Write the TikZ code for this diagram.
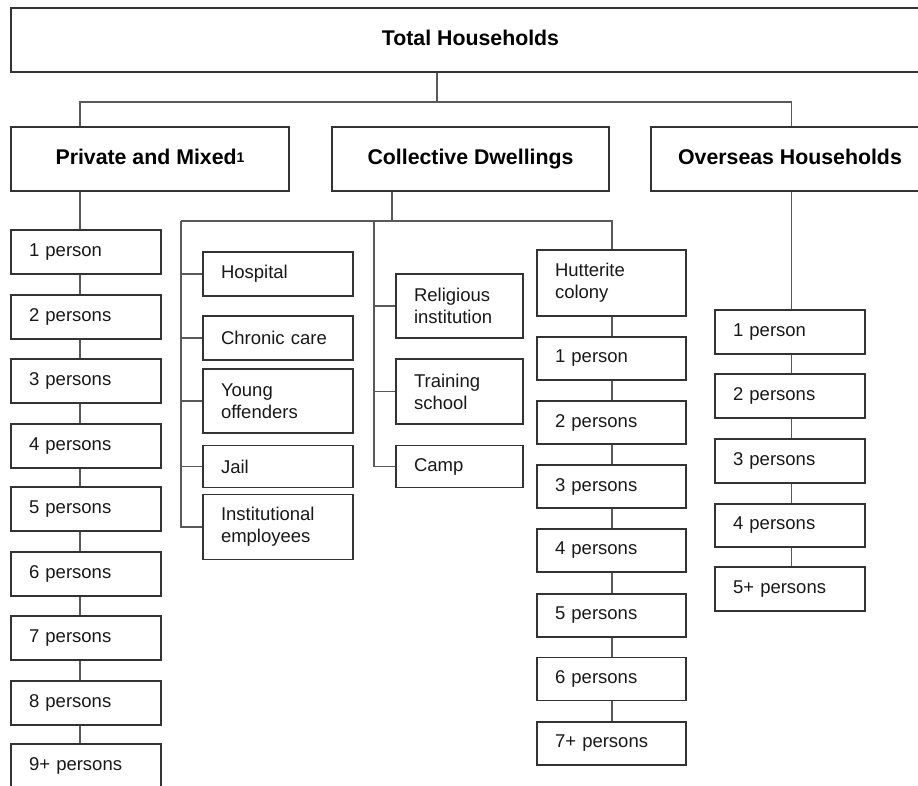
\documentclass[tikz,border=0pt]{standalone}
\usepackage{fontspec}
\setmainfont{Liberation Sans}
\begin{document}
\begin{tikzpicture}[x=1pt,y=-1pt,
  boxline/.style={draw=black!80, line width=1.6pt},
  headbox/.style={boxline, inner sep=0pt, minimum height=64pt, align=center,
    text height=15pt, text depth=4pt,
    font=\fontsize{21.3}{24}\selectfont\bfseries},
  itembox/.style={boxline, inner xsep=18pt, inner ysep=0pt, text width=#1-36pt,
    align=left, font=\fontsize{18.5}{22}\selectfont, text=black!90},
  itembox/.default=150pt,
  link/.style={draw=black!65, line width=1.3pt}]
\useasboundingbox (0,0) rectangle (918,785);
\fill[white] (0,0) rectangle (918,785);
\clip (0,0) rectangle (918,785);

% level 1 and 2
\node[headbox, minimum width=919pt] (total) at (470.5,40) {Total Households};
\node[headbox, minimum width=278pt] (priv) at (150,159) {Private and Mixed\raisebox{2.5pt}{\fontsize{14}{14}\selectfont 1}};
\node[headbox, minimum width=277pt] (coll) at (470.5,159) {Collective Dwellings};
\node[headbox, minimum width=278pt] (over) at (790,159) {Overseas Households};

% private column
\node[itembox, minimum height=44pt] (p1) at (86,252) {1 person};
\node[itembox, minimum height=44pt] (p2) at (86,317) {2 persons};
\node[itembox, minimum height=44pt] (p3) at (86,381) {3 persons};
\node[itembox, minimum height=44pt] (p4) at (86,446) {4 persons};
\node[itembox, minimum height=44pt] (p5) at (86,509) {5 persons};
\node[itembox, minimum height=44pt] (p6) at (86,574) {6 persons};
\node[itembox, minimum height=44pt] (p7) at (86,638) {7 persons};
\node[itembox, minimum height=44pt] (p8) at (86,703) {8 persons};
\node[itembox, minimum height=44pt] (p9) at (86,766) {9+ persons};

% collective: institutions
\node[itembox, minimum height=44pt] (hosp) at (278,274) {Hospital};
\node[itembox, minimum height=44pt] (chron) at (278,338) {Chronic care};
\node[itembox, minimum height=64pt] (young) at (278,401) {Young\\offenders};
\node[itembox, minimum height=42pt] (jail) at (278,466.5) {Jail};
\node[itembox, minimum height=65pt] (inst) at (278,527) {Institutional\\employees};

% collective: other
\node[itembox=127pt, minimum height=64pt] (relig) at (459.5,306) {Religious\\institution};
\node[itembox=127pt, minimum height=65pt] (train) at (459.5,391.5) {Training\\school};
\node[itembox=127pt, minimum height=42pt] (camp) at (459.5,466.5) {Camp};

% hutterite column
\node[itembox=149pt, minimum height=66pt] (hut) at (611.5,283) {Hutterite\\colony};
\node[itembox=149pt, minimum height=43pt] (h1) at (611.5,358.5) {1 person};
\node[itembox=149pt, minimum height=43pt] (h2) at (611.5,422.5) {2 persons};
\node[itembox=149pt, minimum height=43pt] (h3) at (611.5,486.5) {3 persons};
\node[itembox=149pt, minimum height=43pt] (h4) at (611.5,550.5) {4 persons};
\node[itembox=149pt, minimum height=43pt] (h5) at (611.5,615.5) {5 persons};
\node[itembox=149pt, minimum height=43pt] (h6) at (611.5,679) {6 persons};
\node[itembox=149pt, minimum height=43pt] (h7) at (611.5,743.5) {7+ persons};

% overseas column
\node[itembox, minimum height=44pt] (o1) at (790,332) {1 person};
\node[itembox, minimum height=44pt] (o2) at (790,396) {2 persons};
\node[itembox, minimum height=44pt] (o3) at (790,461) {3 persons};
\node[itembox, minimum height=43pt] (o4) at (790,525.5) {4 persons};
\node[itembox, minimum height=44pt] (o5) at (790,589) {5+ persons};

% helper coordinates
\coordinate (tstem) at (437,0);
\coordinate (topbar) at (0,102);
\coordinate (lx) at (80,0);
\coordinate (ox) at (791.5,0);
\coordinate (cstem) at (392,0);
\coordinate (cbar) at (0,221);
\coordinate (cv1) at (181,0);
\coordinate (cv2) at (374,0);
\coordinate (hx) at (612,0);

% level 1 to 2
\draw[link] (total.south -| tstem) -- (tstem |- topbar);
\draw[link] (priv.north -| lx) -- (lx |- topbar) -- (ox |- topbar) -- (over.north -| ox);

% private chain
\draw[link] (priv.south -| lx) -- (p1.north -| lx);
\foreach \a/\b in {p1/p2,p2/p3,p3/p4,p4/p5,p5/p6,p6/p7,p7/p8,p8/p9}
  \draw[link] (\a.south -| lx) -- (\b.north -| lx);

% overseas chain
\draw[link] (over.south -| ox) -- (o1.north -| ox);
\foreach \a/\b in {o1/o2,o2/o3,o3/o4,o4/o5}
  \draw[link] (\a.south -| ox) -- (\b.north -| ox);

% collective
\draw[link] (coll.south -| cstem) -- (cstem |- cbar);
\draw[link] (cv1 |- cbar) -- (hx |- cbar) -- (hut.north -| hx);
\draw[link] (cv1 |- cbar) |- (inst.west);
\foreach \n in {hosp,chron,young,jail}
  \draw[link] (\n.west -| cv1) -- (\n.west);
\draw[link] (cv2 |- cbar) |- (camp.west);
\foreach \n in {relig,train}
  \draw[link] (\n.west -| cv2) -- (\n.west);

% hutterite chain
\foreach \a/\b in {hut/h1,h1/h2,h2/h3,h3/h4,h4/h5,h5/h6,h6/h7}
  \draw[link] (\a.south -| hx) -- (\b.north -| hx);
\end{tikzpicture}
\end{document}
